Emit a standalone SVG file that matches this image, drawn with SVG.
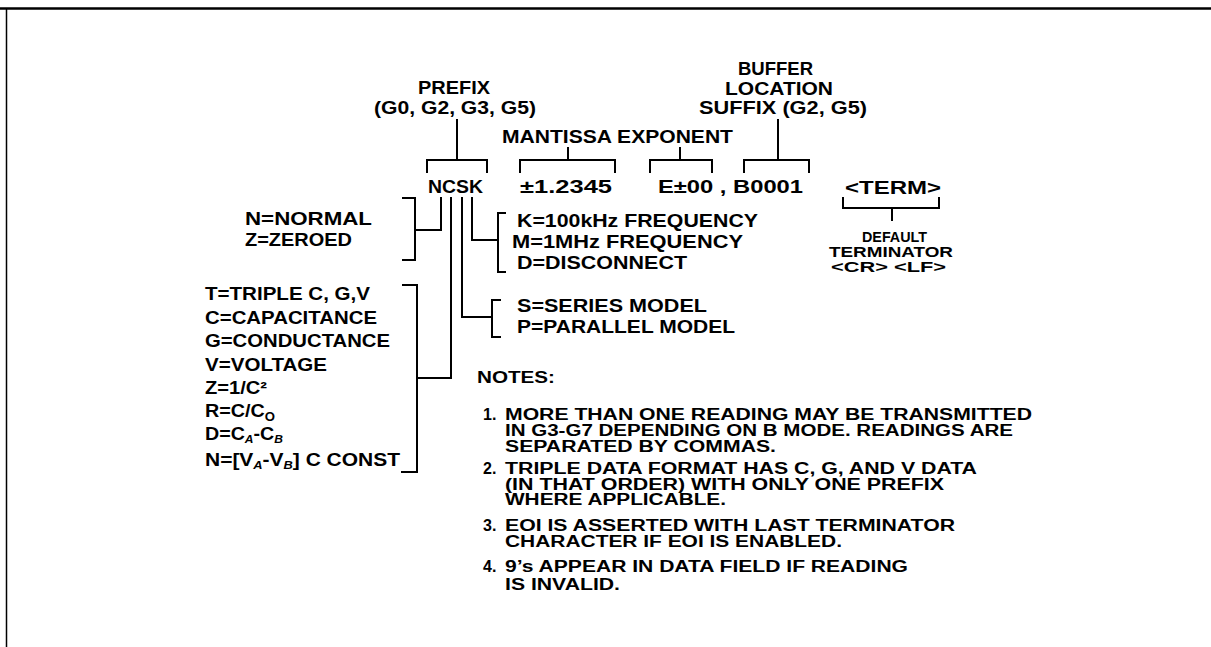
<svg xmlns="http://www.w3.org/2000/svg" width="1211" height="647" viewBox="0 0 1211 647">
<style>
text{font-family:"Liberation Sans",Arial,sans-serif;font-weight:bold;fill:#000;}
.h{font-size:18px}
.r{font-size:19px}
.s{font-size:15px}
.n{font-size:16px}
.c{fill:none;stroke:#000;stroke-width:2;stroke-linecap:square}
</style>
<rect width="1211" height="647" fill="#fff"/>
<g id="frame" class="c">
<path d="M0,8.5 H1211" stroke-width="2.5"/>
<path d="M6.5,9 V647" stroke-width="1.5"/>
</g>
<g id="connectors" class="c">
<path d="M457,120 V160 M427,172 V160 H487 V172"/>
<path d="M520,172 V160 H615 V172 M568,148 V160"/>
<path d="M650,172 V160 H712 V172 M680,148 V160"/>
<path d="M778,120 V160 M744,172 V160 H809 V172"/>
<path d="M843,198 V208 H939 V198 M892,208 V220"/>
<path d="M441,198 V230 H415 M403,198 H415 V260 H403"/>
<path d="M451,198 V378 H417 M403,285 H417 V472 H402"/>
<path d="M462,198 V317 H492 M500,300 H492 V337 H500"/>
<path d="M472,198 V240 H498 M505,213 H498 V272 H505"/>
</g>
<g id="prefix">
<text class="h" x="418" y="94" textLength="72" lengthAdjust="spacingAndGlyphs">PREFIX</text>
<text class="h" x="374" y="114" textLength="162" lengthAdjust="spacingAndGlyphs">(G0, G2, G3, G5)</text>
</g>
<g id="buffer">
<text class="h" x="738" y="75" textLength="75" lengthAdjust="spacingAndGlyphs">BUFFER</text>
<text class="h" x="725" y="95" textLength="108" lengthAdjust="spacingAndGlyphs">LOCATION</text>
<text class="h" x="699" y="114" textLength="168" lengthAdjust="spacingAndGlyphs">SUFFIX (G2, G5)</text>
</g>
<g id="mantissa-exponent">
<text class="h" x="502" y="143" textLength="231" lengthAdjust="spacingAndGlyphs">MANTISSA EXPONENT</text>
</g>
<g id="data">
<text class="r" x="428" y="193" textLength="55" lengthAdjust="spacingAndGlyphs">NCSK</text>
<text class="r" x="520" y="193" textLength="92" lengthAdjust="spacingAndGlyphs">±1.2345</text>
<text class="r" x="658" y="193" textLength="145" lengthAdjust="spacingAndGlyphs">E±00 , B0001</text>
</g>
<g id="term">
<text class="h" x="845" y="194" textLength="96" lengthAdjust="spacingAndGlyphs">&lt;TERM&gt;</text>
<text class="s" x="862" y="242" textLength="65" lengthAdjust="spacingAndGlyphs">DEFAULT</text>
<text class="s" x="829" y="257" textLength="124" lengthAdjust="spacingAndGlyphs">TERMINATOR</text>
<text class="s" x="831" y="272" textLength="115" lengthAdjust="spacingAndGlyphs">&lt;CR&gt; &lt;LF&gt;</text>
</g>
<g id="normal-zeroed">
<text class="h" x="245" y="225" textLength="127" lengthAdjust="spacingAndGlyphs">N=NORMAL</text>
<text class="h" x="245" y="246" textLength="107" lengthAdjust="spacingAndGlyphs">Z=ZEROED</text>
</g>
<g id="frequency">
<text class="h" x="517" y="227" textLength="241" lengthAdjust="spacingAndGlyphs">K=100kHz FREQUENCY</text>
<text class="h" x="512" y="248" textLength="231" lengthAdjust="spacingAndGlyphs">M=1MHz FREQUENCY</text>
<text class="h" x="517" y="269" textLength="170" lengthAdjust="spacingAndGlyphs">D=DISCONNECT</text>
</g>
<g id="model">
<text class="h" x="517" y="312" textLength="190" lengthAdjust="spacingAndGlyphs">S=SERIES MODEL</text>
<text class="h" x="517" y="333" textLength="218" lengthAdjust="spacingAndGlyphs">P=PARALLEL MODEL</text>
</g>
<g id="function">
<text class="h" x="205" y="300" textLength="165" lengthAdjust="spacingAndGlyphs">T=TRIPLE C, G,V</text>
<text class="h" x="205" y="324" textLength="172" lengthAdjust="spacingAndGlyphs">C=CAPACITANCE</text>
<text class="h" x="205" y="347" textLength="185" lengthAdjust="spacingAndGlyphs">G=CONDUCTANCE</text>
<text class="h" x="205" y="371" textLength="122" lengthAdjust="spacingAndGlyphs">V=VOLTAGE</text>
<text class="h" x="205" y="394" textLength="62" lengthAdjust="spacingAndGlyphs">Z=1/C²</text>
<text class="h" x="205" y="417" textLength="70" lengthAdjust="spacingAndGlyphs">R=C/C<tspan font-size="12" dy="4">O</tspan></text>
<text class="h" x="205" y="440" textLength="78" lengthAdjust="spacingAndGlyphs">D=C<tspan font-size="11" font-style="italic" dy="3">A</tspan><tspan dy="-3">-C</tspan><tspan font-size="11" font-style="italic" dy="3">B</tspan></text>
<text class="h" x="205" y="466" textLength="195" lengthAdjust="spacingAndGlyphs">N=[V<tspan font-size="11" font-style="italic" dy="3">A</tspan><tspan dy="-3">-V</tspan><tspan font-size="11" font-style="italic" dy="3">B</tspan><tspan dy="-3">] C CONST</tspan></text>
</g>
<g id="notes">
<text class="n" x="477" y="383" textLength="78" lengthAdjust="spacingAndGlyphs">NOTES:</text>
<text class="n" x="483" y="420">1.</text>
<text class="n" x="505" y="420" textLength="527" lengthAdjust="spacingAndGlyphs">MORE THAN ONE READING MAY BE TRANSMITTED</text>
<text class="n" x="505" y="436" textLength="508" lengthAdjust="spacingAndGlyphs">IN G3-G7 DEPENDING ON B MODE. READINGS ARE</text>
<text class="n" x="505" y="452" textLength="271" lengthAdjust="spacingAndGlyphs">SEPARATED BY COMMAS.</text>
<text class="n" x="483" y="474">2.</text>
<text class="n" x="505" y="474" textLength="472" lengthAdjust="spacingAndGlyphs">TRIPLE DATA FORMAT HAS C, G, AND V DATA</text>
<text class="n" x="505" y="490" textLength="439" lengthAdjust="spacingAndGlyphs">(IN THAT ORDER) WITH ONLY ONE PREFIX</text>
<text class="n" x="505" y="505" textLength="221" lengthAdjust="spacingAndGlyphs">WHERE APPLICABLE.</text>
<text class="n" x="483" y="531">3.</text>
<text class="n" x="505" y="531" textLength="450" lengthAdjust="spacingAndGlyphs">EOI IS ASSERTED WITH LAST TERMINATOR</text>
<text class="n" x="505" y="547" textLength="337" lengthAdjust="spacingAndGlyphs">CHARACTER IF EOI IS ENABLED.</text>
<text class="n" x="483" y="572">4.</text>
<text class="n" x="505" y="572" textLength="403" lengthAdjust="spacingAndGlyphs">9’s APPEAR IN DATA FIELD IF READING</text>
<text class="n" x="505" y="590" textLength="115" lengthAdjust="spacingAndGlyphs">IS INVALID.</text>
</g>
</svg>
